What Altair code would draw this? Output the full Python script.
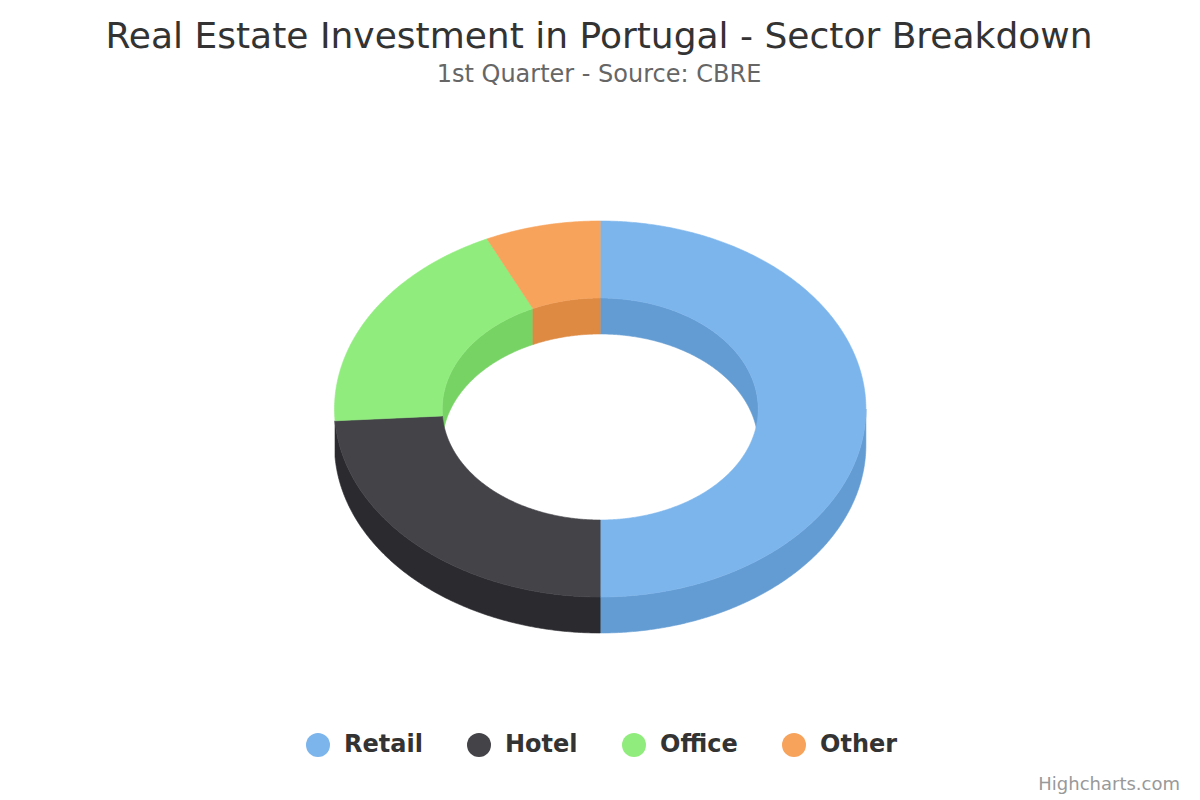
import numpy as np
import pandas as pd
import altair as alt

# chart content
categories = ["Retail", "Hotel", "Office", "Other"]
shares = [50, 24, 19, 7]
top_colors = ["#7cb5ec", "#434348", "#90ed7d", "#f7a35c"]
side_colors = ["#639cd3", "#2a2a2f", "#77d464", "#de8a43"]
title_text = "Real Estate Investment in Portugal - Sector Breakdown"
subtitle_text = "1st Quarter - Source: CBRE"
credit_text = "Highcharts.com"

# tilted-ring geometry, in the units of the x and y scales
CX, CY = 600.2, 409
RX_OUT, RY_OUT = 265.7, 188
RX_IN, RY_IN = 158, 111
DEPTH = 36
MIN_WALL_DEG = 5  # slivers of wall narrower than this are not drawn


def ring_point(deg, rx, ry, drop=0):
    a = np.radians(deg)
    return CX + rx * np.sin(a), CY - ry * np.cos(a) + drop


def arc_degrees(a, b):
    return np.linspace(a, b, max(2, int(abs(b - a) * 2) + 2))


rows_top, rows_side = [], []
edges = np.cumsum([0] + shares) / sum(shares) * 360
for k, name in enumerate(categories):
    a, b = edges[k], edges[k + 1]
    # top face: outer arc forward, inner arc back, then closed
    outline = [ring_point(d, RX_OUT, RY_OUT) for d in arc_degrees(a, b)]
    outline += [ring_point(d, RX_IN, RY_IN) for d in arc_degrees(b, a)]
    outline.append(outline[0])
    for i, (x, y) in enumerate(outline):
        rows_top.append({"cat": name, "i": i, "x": x, "y": y})
    # outer wall shows on the near half, inner wall on the far half
    for kind, lo, hi, rx, ry in [
        ("outer", 90, 270, RX_OUT, RY_OUT),
        ("inner1", 0, 90, RX_IN, RY_IN),
        ("inner2", 270, 360, RX_IN, RY_IN),
    ]:
        s, e = max(a, lo), min(b, hi)
        if e - s < MIN_WALL_DEG:
            continue
        wall = [ring_point(d, rx, ry) for d in arc_degrees(s, e)]
        wall += [ring_point(d, rx, ry, DEPTH) for d in arc_degrees(e, s)]
        wall.append(wall[0])
        for i, (x, y) in enumerate(wall):
            rows_side.append(
                {"cat": name, "piece": name + kind, "i": i, "x": x, "y": y,
                 "side": side_colors[k]}
            )

top_df = pd.DataFrame(rows_top)
side_df = pd.DataFrame(rows_side)

x_scale = alt.Scale(domain=[8, 1192], nice=False, zero=False)
y_scale = alt.Scale(domain=[796, 100], nice=False, zero=False)
x_enc = alt.X("x:Q", scale=x_scale, axis=None)
y_enc = alt.Y("y:Q", scale=y_scale, axis=None)
cat_scale = alt.Scale(domain=categories, range=top_colors)

sides = alt.Chart(side_df).mark_line(filled=True, strokeWidth=0.6).encode(
    x=x_enc, y=y_enc,
    fill=alt.Fill("side:N", scale=None, legend=None),
    stroke=alt.Stroke("side:N", scale=None, legend=None),
    detail="piece:N",
    order=alt.Order("i:Q"),
)

tops = alt.Chart(top_df).mark_line(filled=True, strokeWidth=0.6).encode(
    x=x_enc, y=y_enc,
    stroke=alt.Stroke("cat:N", scale=cat_scale, sort=categories, legend=None),
    color=alt.Color(
        "cat:N",
        scale=cat_scale,
        sort=categories,
        legend=alt.Legend(
            title=None,
            orient="none",
            legendX=298,
            legendY=633,
            direction="horizontal",
            columns=4,
            gridAlign="none",
            symbolType="circle",
            symbolSize=576,
            symbolStrokeWidth=0,
            symbolOpacity=1,
            labelFont="DejaVu Sans",
            labelFontSize=24,
            labelFontWeight="bold",
            labelColor="#333333",
            labelOffset=14,
            columnPadding=44,
            labelLimit=200,
        ),
    ),
    order=alt.Order("i:Q"),
)

credit = alt.Chart(pd.DataFrame({"t": [credit_text]})).mark_text(
    align="right", baseline="middle", font="DejaVu Sans", fontSize=18, color="#999999"
).encode(
    x=alt.X("px:Q", scale=x_scale, axis=None),
    y=alt.Y("py:Q", scale=y_scale, axis=None),
    text="t:N",
).transform_calculate(px="1180", py="785")

chart = (
    alt.layer(sides, tops, credit)
    .resolve_scale(fill="independent", color="independent", stroke="independent")
    .properties(
        width=1184,
        height=696,
        padding={"left": 0, "right": 0, "top": 92, "bottom": 0},
        autosize=alt.AutoSizeParams(type="none"),
        title=alt.TitleParams(
            text=title_text,
            subtitle=subtitle_text,
            anchor="middle",
            dx=-1,
            font="DejaVu Sans",
            fontSize=36,
            fontWeight="normal",
            color="#333333",
            subtitleFont="DejaVu Sans",
            subtitleFontSize=24,
            subtitleColor="#666666",
            subtitlePadding=7,
            offset=12,
        ),
    )
    .configure_view(stroke=None)
)

chart.save("out.html", embed_options={"renderer": "svg", "actions": False})
